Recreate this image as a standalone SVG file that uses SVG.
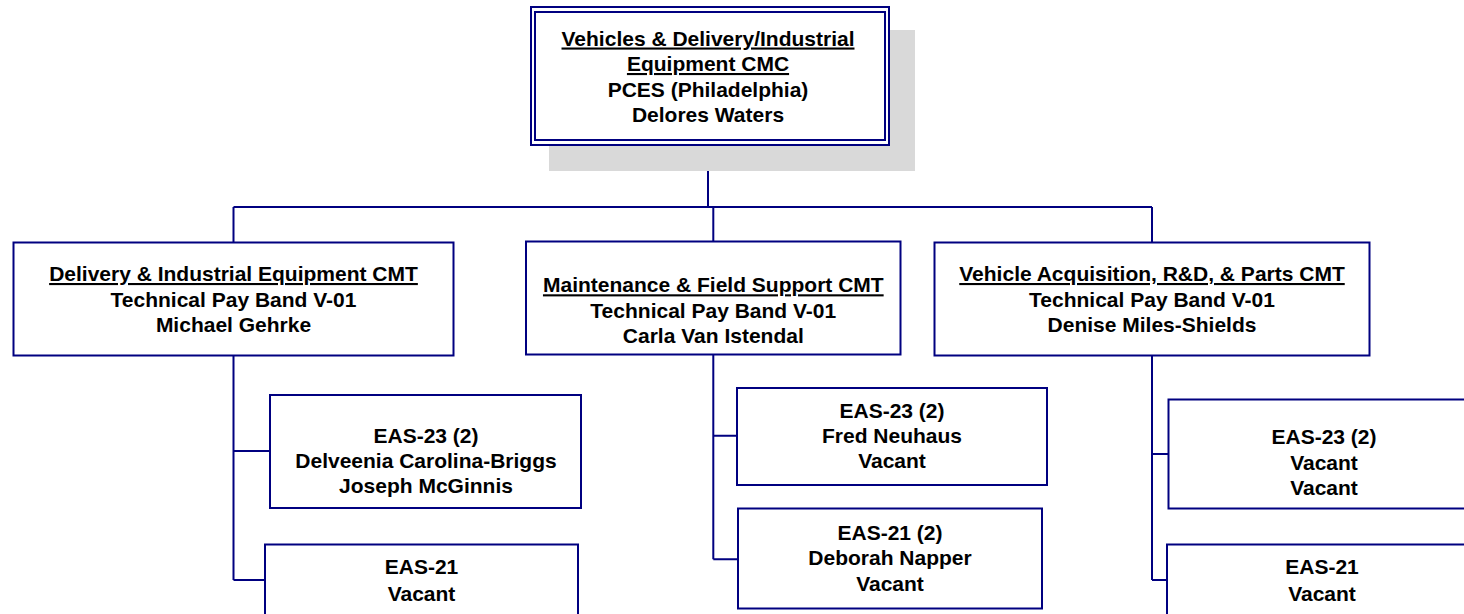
<svg xmlns="http://www.w3.org/2000/svg" width="1464" height="614" viewBox="0 0 1464 614">
<style>
.box{fill:#ffffff;stroke:#000080;stroke-width:2}
.conn{fill:none;stroke:#000080;stroke-width:2}
text{font-family:"Liberation Sans",Arial,sans-serif;font-weight:bold;font-size:21px;fill:#000000;text-anchor:middle}
.u{text-decoration:underline}
</style>
<rect x="0" y="0" width="1464" height="614" fill="#ffffff"/>
<g id="connectors">
<path class="conn" d="M708,145 V207 M233.5,207 H1152 M233.5,207 V243 M713.3,207 V242 M1152,207 V243"/>
<path class="conn" d="M233.5,355 V580 M233.5,451 H270 M233.5,580 H265"/>
<path class="conn" d="M713.3,354 V559.3 M713.3,435.7 H737 M713.3,559.3 H738"/>
<path class="conn" d="M1152,355 V580 M1152,454 H1168.5 M1152,580 H1167"/>
</g>
<g id="node-top">
<rect x="549" y="30" width="366" height="141" fill="#d9d9d9"/>
<rect class="box" x="531" y="7" width="358" height="138"/>
<rect class="box" x="535" y="12" width="350" height="128"/>
<text x="708" y="45.5" class="u">Vehicles &amp; Delivery/Industrial</text>
<text x="708" y="71" class="u">Equipment CMC</text>
<text x="708" y="96.5">PCES (Philadelphia)</text>
<text x="708" y="122">Delores Waters</text>
</g>
<g id="node-delivery">
<rect class="box" x="13.5" y="242.5" width="440" height="113"/>
<text x="233.5" y="281" class="u">Delivery &amp; Industrial Equipment CMT</text>
<text x="233.5" y="306.5">Technical Pay Band V-01</text>
<text x="233.5" y="332">Michael Gehrke</text>
</g>
<g id="node-maintenance">
<rect class="box" x="526" y="241.5" width="374.5" height="113"/>
<text x="713.3" y="292.3" class="u">Maintenance &amp; Field Support CMT</text>
<text x="713.3" y="318">Technical Pay Band V-01</text>
<text x="713.3" y="343.3">Carla Van Istendal</text>
</g>
<g id="node-acquisition">
<rect class="box" x="934.5" y="242.5" width="435" height="113"/>
<text x="1152" y="281" class="u">Vehicle Acquisition, R&amp;D, &amp; Parts CMT</text>
<text x="1152" y="306.5">Technical Pay Band V-01</text>
<text x="1152" y="332">Denise Miles-Shields</text>
</g>
<g id="node-del-eas23">
<rect class="box" x="270" y="395" width="311" height="113"/>
<text x="426" y="443.3">EAS-23 (2)</text>
<text x="426" y="468.3">Delveenia Carolina-Briggs</text>
<text x="426" y="492.7">Joseph McGinnis</text>
</g>
<g id="node-del-eas21">
<rect class="box" x="265" y="544.5" width="313" height="113"/>
<text x="421.5" y="574.3">EAS-21</text>
<text x="421.5" y="600.5">Vacant</text>
</g>
<g id="node-mnt-eas23">
<rect class="box" x="737" y="388" width="310" height="97"/>
<text x="892" y="417.7">EAS-23 (2)</text>
<text x="892" y="443.3">Fred Neuhaus</text>
<text x="892" y="468.3">Vacant</text>
</g>
<g id="node-mnt-eas21">
<rect class="box" x="738" y="508.5" width="304" height="100"/>
<text x="890" y="540">EAS-21 (2)</text>
<text x="890" y="565">Deborah Napper</text>
<text x="890" y="590.7">Vacant</text>
</g>
<g id="node-acq-eas23">
<rect class="box" x="1168.5" y="399.5" width="312" height="109"/>
<text x="1324" y="444.3">EAS-23 (2)</text>
<text x="1324" y="470">Vacant</text>
<text x="1324" y="495">Vacant</text>
</g>
<g id="node-acq-eas21">
<rect class="box" x="1167" y="544.5" width="313" height="113"/>
<text x="1322" y="574.3">EAS-21</text>
<text x="1322" y="600.5">Vacant</text>
</g>
</svg>
